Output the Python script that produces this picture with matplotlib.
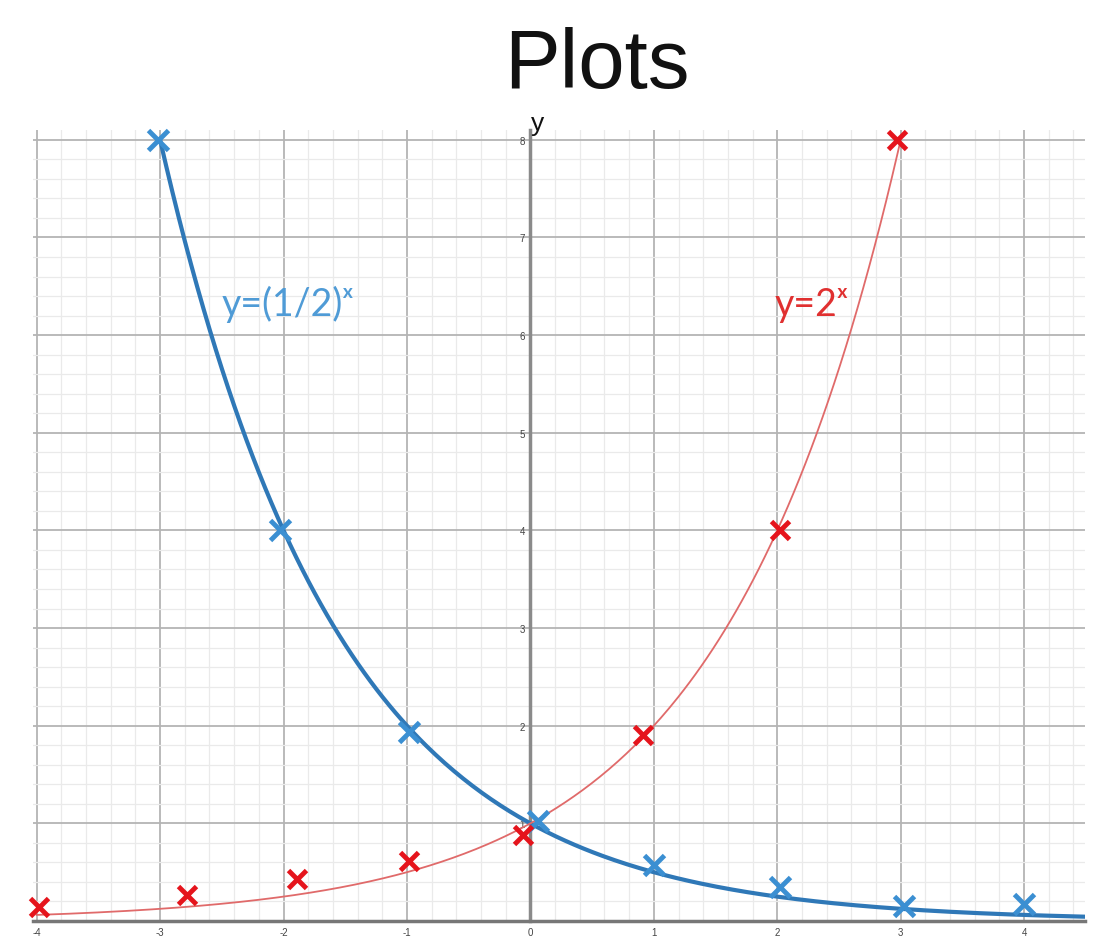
import numpy as np
import matplotlib
matplotlib.use("Agg")
import matplotlib.pyplot as plt
from matplotlib.ticker import MultipleLocator

plt.rcParams['font.family'] = ['Liberation Sans', 'DejaVu Sans']
plt.rcParams['axes.unicode_minus'] = False

# Plotted points (hand-drawn crosses)
half_x = [-3.02, -2.03, -0.98, 0.06, 1.0, 2.02, 3.03, 4.0]
half_y = [8.0, 4.0, 1.94, 1.02, 0.57, 0.35, 0.15, 0.17]
two_x = [-3.98, -2.78, -1.89, -0.98, -0.06, 0.91, 2.02, 2.97]
two_y = [0.14, 0.27, 0.43, 0.61, 0.88, 1.9, 4.0, 8.0]

# Functions named on the chart
half_base = 0.5
two_base = 2.0

x_ticks = [-4, -3, -2, -1, 0, 1, 2, 3, 4]
y_ticks = [1, 2, 3, 4, 5, 6, 7, 8]

blue_line = "#2f78b7"
blue_mark = "#3b8fd2"
blue_text = "#4f9bd6"
red_line = "#e06a6a"
red_mark = "#e5141c"
red_text = "#e03030"

fig = plt.figure(figsize=(11.14, 9.53), dpi=100)
ax = fig.add_axes([0.0296, 0.0325, 0.944, 0.830])
ax.set_xlim(-4.03, 4.49)
ax.set_ylim(0, 8.1)

# graph-paper grid
ax.xaxis.set_minor_locator(MultipleLocator(0.2))
ax.yaxis.set_minor_locator(MultipleLocator(0.2))
ax.set_xticks(x_ticks)
ax.set_yticks(y_ticks)
ax.grid(True, which='major', color='#b4b4b4', linewidth=1.3)
ax.grid(True, which='minor', color='#eaeaea', linewidth=0.9)
ax.set_axisbelow(True)

# axes through the origin
ax.spines['left'].set_position(('data', 0))
ax.spines['left'].set_color('#8a8a8a')
ax.spines['left'].set_linewidth(2.5)
ax.spines['bottom'].set_color('#777777')
ax.spines['bottom'].set_linewidth(2.5)
ax.spines['top'].set_visible(False)
ax.spines['right'].set_visible(False)
ax.tick_params(which='both', length=0)
ax.tick_params(axis='both', labelsize=7, labelcolor='#444444', pad=4)

# curves
xb = np.linspace(-3.0, 4.49, 300)
ax.plot(xb, half_base ** xb, color=blue_line, linewidth=3, zorder=3)
xr = np.linspace(-4.0, 3.0, 300)
ax.plot(xr, two_base ** xr, color=red_line, linewidth=1.3, zorder=3)

# crosses
ax.plot(half_x, half_y, linestyle='none', marker='x', color=blue_mark,
        markersize=14, markeredgewidth=3.5, zorder=4, clip_on=False)
ax.plot(two_x, two_y, linestyle='none', marker='x', color=red_mark,
        markersize=13, markeredgewidth=3.5, zorder=4, clip_on=False)

# curve labels
label_font = ['Lato', 'DejaVu Sans']
ax.text(-2.50, 6.32, "y=(1/2)ˣ", color=blue_text, family=label_font,
        fontsize=27, va='center', ha='left')
ax.text(1.98, 6.32, "y=2ˣ", color=red_text, family=label_font,
        fontsize=27, va='center', ha='left')

# axis name and title
ax.text(0.06, 8.1, "y", fontsize=19, ha='center', va='baseline', color='#111111')
fig.text(0.536, 0.908, "Plots", fontsize=60, ha='center', va='baseline', color='#111111')

fig.savefig("out.png", dpi=100)
